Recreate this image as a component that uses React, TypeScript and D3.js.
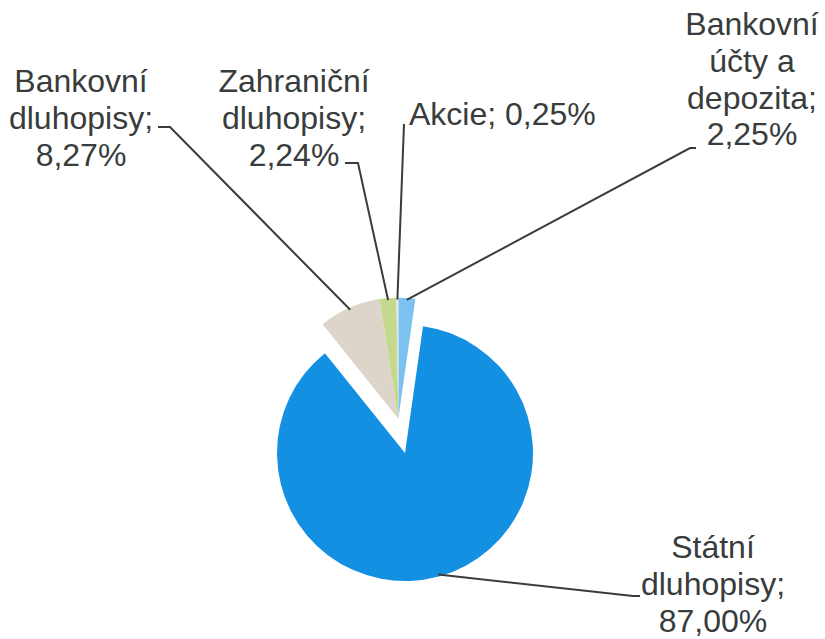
import React from "react";
import * as d3 from "d3";

// slices in clockwise order starting at 12 o'clock
const categories = [
  "Bankovní účty a depozita",
  "Státní dluhopisy",
  "Bankovní dluhopisy",
  "Zahraniční dluhopisy",
  "Akcie",
];
const values = [2.25, 87.0, 8.27, 2.24, 0.25];
const labelLines = [
  ["Bankovní", "účty a", "depozita;", "2,25%"],
  ["Státní", "dluhopisy;", "87,00%"],
  ["Bankovní", "dluhopisy;", "8,27%"],
  ["Zahraniční", "dluhopisy;", "2,24%"],
  ["Akcie; 0,25%"],
];
const colors = ["#7cc2f0", "#1390e2", "#ddd5c9", "#c4d88e", "#e4e8ea"];

// layout for labels / leader lines (not data)
const layout = [
  { x: 752, y: 35, anchor: "middle", elbow: [690, 148], end: [696, 148] },
  { x: 713, y: 558, anchor: "middle", elbow: [633, 596], end: [640, 596] },
  { x: 81, y: 92, anchor: "middle", elbow: [170, 127], end: [158, 127] },
  { x: 294, y: 92, anchor: "middle", elbow: [358, 163], end: [345, 163] },
  { x: 409, y: 125, anchor: "start", elbow: [404, 124], end: [404, 124] },
];
// the four small slices are pulled out together
const exploded = [true, false, true, true, true];
const explodeDist = 35;
const explodeAngle = (-11 * Math.PI) / 180;

const W = 825;
const H = 639;
const cx = 405;
const cy = 453;
const R = 128;
const Rsmall = 121;
const lineH = 36.8;

export default function App() {
  const pie = d3
    .pie<number>()
    .sort(null)
    .value((d) => d);
  const arcs = pie(values);
  const arcBig = d3.arc<d3.PieArcDatum<number>>().innerRadius(0).outerRadius(R);
  const arcSmall = d3
    .arc<d3.PieArcDatum<number>>()
    .innerRadius(0)
    .outerRadius(Rsmall);

  const offset = (i: number) =>
    exploded[i]
      ? [Math.sin(explodeAngle) * explodeDist, -Math.cos(explodeAngle) * explodeDist]
      : [0, 0];

  return (
    <svg
      width={W}
      height={H}
      style={{ position: "absolute", left: 0, top: 0 }}
      fontFamily="'Liberation Sans', Arial, sans-serif"
    >
      <rect width={W} height={H} fill="#ffffff" />
      {arcs.map((a, i) => {
        const [dx, dy] = offset(i);
        const arc = exploded[i] ? arcSmall : arcBig;
        return (
          <path
            key={"s" + i}
            d={arc(a) ?? ""}
            transform={`translate(${cx + dx},${cy + dy})`}
            fill={colors[i]}
          />
        );
      })}
      {arcs.map((a, i) => {
        const mid = (a.startAngle + a.endAngle) / 2;
        const [dx, dy] = offset(i);
        const r = exploded[i] ? Rsmall : R;
        const px = cx + dx + Math.sin(mid) * (r - 2);
        const py = cy + dy - Math.cos(mid) * (r - 2);
        const L = layout[i];
        const pts: [number, number][] = [
          [px, py],
          L.elbow as [number, number],
          L.end as [number, number],
        ];
        return (
          <path
            key={"l" + i}
            d={d3.line()(pts) ?? ""}
            fill="none"
            stroke="#3b3b3b"
            strokeWidth={2}
          />
        );
      })}
      {labelLines.map((lines, i) => {
        const L = layout[i];
        return (
          <text
            key={"t" + i}
            x={L.x}
            y={L.y}
            textAnchor={L.anchor}
            fontSize={32}
            fill="#383c3c"
          >
            {lines.map((ln, j) => (
              <tspan key={j} x={L.x} y={L.y + j * lineH}>
                {ln}
              </tspan>
            ))}
          </text>
        );
      })}
    </svg>
  );
}
